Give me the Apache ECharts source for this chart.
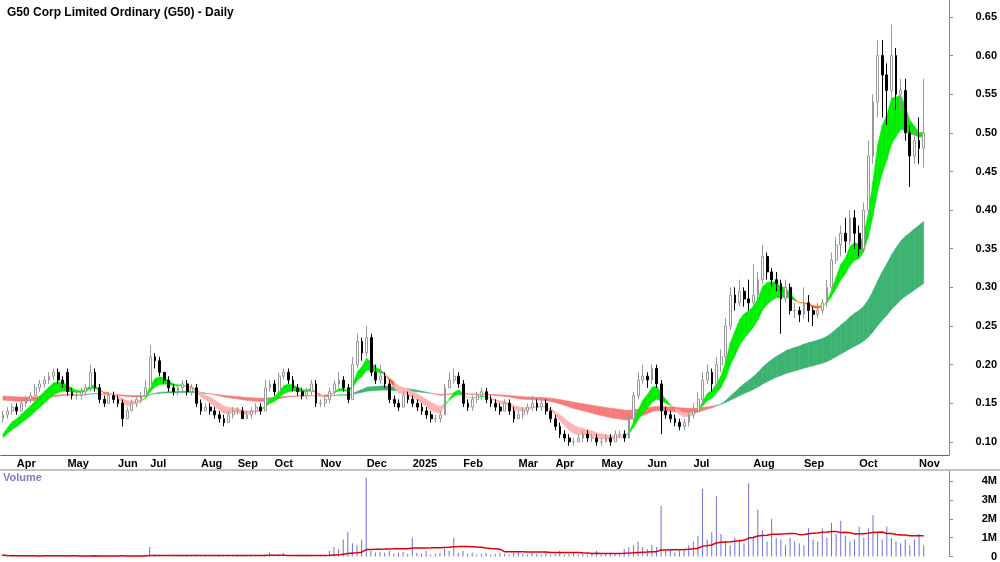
<!DOCTYPE html><html><head><meta charset="utf-8"><script src="https://cdn.jsdelivr.net/npm/echarts@6/dist/echarts.min.js"></script>
<style>body{margin:0}#c{width:1000px;height:562px}</style></head><body><div id="c"></div><script>
const title='G50 Corp Limited Ordinary (G50) - Daily';
// [open, close, low, high]
const ohlc=[[.13,.135,.125,.14],[.135,.14,.13,.145],[.14,.145,.135,.15],[.145,.14,.135,.15],[.14,.15,.14,.155],[.15,.155,.145,.16],[.155,.16,.15,.165],[.16,.17,.16,.175],[.17,.175,.165,.18],[.175,.18,.17,.185],
[.18,.185,.175,.19],[.185,.19,.18,.195],[.19,.18,.175,.195],[.18,.175,.17,.185],[.19,.165,.16,.195],[.165,.16,.155,.17],[.16,.16,.155,.165],[.16,.165,.155,.17],[.165,.17,.16,.175],[.17,.19,.165,.20],
[.19,.17,.165,.195],[.17,.155,.15,.175],[.155,.15,.145,.16],[.15,.16,.15,.165],[.16,.155,.15,.165],[.155,.15,.145,.16],[.15,.13,.12,.155],[.13,.14,.13,.145],[.14,.15,.14,.155],[.15,.155,.145,.16],
[.155,.16,.15,.165],[.16,.17,.16,.18],[.17,.21,.17,.225],[.21,.205,.195,.215],[.205,.19,.185,.21],[.19,.18,.175,.19],[.18,.17,.165,.185],[.17,.165,.16,.175],[.165,.17,.16,.175],[.17,.175,.165,.18],
[.175,.165,.16,.18],[.165,.17,.16,.175],[.17,.15,.145,.175],[.15,.14,.135,.155],[.14,.145,.14,.15],[.145,.14,.135,.15],[.14,.135,.13,.145],[.135,.13,.125,.14],[.13,.125,.12,.135],[.125,.135,.125,.14],
[.135,.14,.13,.145],[.14,.14,.135,.145],[.14,.13,.13,.145],[.13,.135,.13,.14],[.135,.14,.13,.145],[.14,.145,.135,.15],[.145,.14,.135,.15],[.14,.17,.14,.18],[.17,.175,.165,.18],[.175,.165,.16,.18],
[.165,.185,.165,.19],[.185,.19,.18,.195],[.19,.18,.175,.195],[.18,.17,.165,.185],[.17,.165,.16,.175],[.165,.16,.155,.17],[.16,.165,.155,.17],[.165,.175,.16,.18],[.175,.15,.145,.18],[.15,.15,.145,.155],
[.15,.155,.145,.16],[.155,.165,.15,.17],[.165,.175,.16,.18],[.175,.18,.17,.19],[.18,.17,.165,.185],[.17,.155,.15,.175],[.155,.2,.155,.21],[.2,.23,.195,.24],[.23,.215,.205,.235],[.215,.235,.21,.25],
[.235,.19,.185,.24],[.19,.18,.175,.2],[.18,.185,.175,.2],[.185,.175,.17,.19],[.175,.155,.15,.18],[.155,.15,.145,.16],[.15,.145,.14,.155],[.145,.16,.145,.165],[.16,.155,.15,.165],[.155,.15,.145,.16],
[.15,.145,.14,.155],[.145,.14,.135,.15],[.14,.135,.13,.145],[.135,.13,.125,.14],[.13,.13,.125,.135],[.13,.135,.125,.14],[.135,.17,.135,.175],[.17,.18,.17,.19],[.18,.185,.175,.195],[.185,.175,.17,.19],
[.175,.15,.145,.18],[.15,.145,.14,.155],[.145,.155,.14,.16],[.155,.16,.15,.165],[.16,.165,.155,.17],[.165,.155,.15,.17],[.155,.15,.145,.16],[.15,.145,.14,.155],[.145,.14,.135,.15],[.14,.15,.14,.155],
[.15,.14,.135,.155],[.14,.13,.125,.145],[.13,.135,.13,.14],[.135,.14,.13,.145],[.14,.145,.135,.15],[.145,.15,.14,.16],[.15,.145,.14,.155],[.145,.15,.14,.155],[.15,.14,.135,.155],[.14,.13,.125,.145],
[.13,.12,.115,.135],[.12,.11,.105,.125],[.11,.105,.1,.115],[.105,.1,.095,.11],[.1,.1,.095,.105],[.1,.105,.1,.11],[.105,.11,.1,.115],[.11,.105,.1,.115],[.105,.105,.1,.11],[.105,.1,.095,.11],
[.1,.1,.095,.105],[.1,.105,.1,.11],[.105,.1,.095,.11],[.1,.11,.1,.115],[.11,.11,.105,.115],[.11,.105,.1,.115],[.105,.13,.105,.135],[.13,.16,.125,.165],[.16,.18,.155,.19],[.18,.185,.175,.2],
[.185,.18,.17,.19],[.18,.195,.175,.2],[.195,.175,.17,.2],[.175,.14,.11,.18],[.14,.135,.13,.145],[.135,.13,.125,.14],[.13,.125,.12,.135],[.125,.12,.115,.13],[.12,.125,.115,.13],[.125,.135,.12,.14],
[.135,.14,.13,.15],[.14,.155,.14,.165],[.155,.18,.15,.19],[.18,.19,.175,.2],[.19,.175,.165,.195],[.175,.2,.17,.21],[.2,.21,.19,.22],[.21,.25,.205,.26],[.25,.29,.245,.3],[.29,.28,.27,.3],
[.28,.295,.275,.31],[.295,.285,.275,.3],[.285,.28,.27,.31],[.28,.29,.275,.33],[.29,.31,.285,.32],[.31,.34,.305,.355],[.34,.32,.31,.345],[.32,.31,.3,.325],[.31,.305,.295,.32],[.305,.285,.24,.31],
[.285,.3,.28,.31],[.3,.27,.265,.305],[.27,.27,.26,.28],[.27,.265,.255,.275],[.265,.28,.26,.3],[.28,.27,.255,.29],[.27,.265,.25,.275],[.265,.27,.26,.28],[.27,.28,.265,.285],[.28,.3,.275,.31],
[.3,.335,.295,.345],[.335,.355,.33,.365],[.355,.37,.34,.38],[.37,.36,.345,.39],[.36,.39,.355,.4],[.39,.37,.35,.4],[.37,.35,.34,.38],[.35,.4,.345,.41],[.4,.47,.395,.49],[.47,.54,.46,.55],
[.54,.6,.52,.62],[.6,.575,.52,.62],[.575,.555,.51,.59],[.555,.6,.54,.64],[.6,.55,.53,.61],[.55,.555,.53,.57],[.555,.5,.49,.57],[.5,.47,.43,.51],[.47,.49,.46,.505],[.49,.48,.46,.52],[.48,.5,.455,.57]];
// volume in millions
const volume=[.08,.02,.02,.03,.02,.05,.02,.03,.02,.06,.03,.04,.02,.03,.02,.05,.03,.02,.02,.04,
.06,.02,.03,.02,.05,.03,.04,.02,.03,.02,.05,.04,.5,.1,.06,.05,.03,.02,.03,.04,
.02,.03,.1,.03,.05,.02,.02,.03,.02,.02,.04,.03,.05,.03,.02,.02,.03,.12,.2,.05,
.1,.2,.06,.04,.03,.05,.03,.05,.02,.03,.04,.3,.5,.4,.9,1.3,.7,.6,.9,4.2,
.3,.2,.25,.2,.3,.15,.2,.25,.15,1.0,.2,.15,.3,.1,.15,.2,.4,.3,1.0,.2,
.3,.15,.2,.1,.15,.2,.1,.15,.2,.15,.1,.2,.3,.15,.1,.2,.15,.1,.2,.1,
.15,.3,.1,.15,.2,.1,.15,.1,.2,.3,.1,.15,.2,.15,.1,.4,.5,.6,.8,.5,
.4,.6,.5,2.7,.3,.4,.2,.3,.4,.6,.8,1.1,3.6,.9,1.3,3.2,1.2,.8,.6,1.0,
.9,.7,3.9,1.0,2.5,1.4,.8,2.0,1.0,.9,.6,1.0,.8,.7,.6,1.5,.9,.8,1.5,1.0,
1.8,1.2,1.9,1.1,.8,.9,1.6,1.0,1.5,2.2,1.3,.9,1.6,1.0,.8,.7,.9,.6,.9,1.2,.6];
const monthLabels={3:'Apr',14:'May',25:'Jun',32:'Jul',43:'Aug',51:'Sep',59:'Oct',69:'Nov',79:'Dec',89:'2025',100:'Feb',112:'Mar',120:'Apr',130:'May',140:'Jun',150:'Jul',163:'Aug',174:'Sep',186:'Oct',199:'Nov'};
const priceTicks=[0.10,0.15,0.20,0.25,0.30,0.35,0.40,0.45,0.50,0.55,0.60,0.65];
const volTicks=[0,1,2,3,4];

const N=206;
const cats=[];for(let i=0;i<N;i++)cats.push(monthLabels[i]||'');
const closes=ohlc.map(d=>d[1]);
function ema(p,seed){const k=2/(p+1);let e=seed;return closes.map(c=>e=e+(c-e)*k);}
const sF=ema(6,0.10),sS=ema(12,0.10),lF=ema(45,0.155),lS=ema(90,0.16);
function band(a,b,col){const out=[];for(let i=0;i<a.length-1;i++)out.push([i,a[i],b[i],a[i+1],b[i+1],col(i)]);return out;}
const cols=['#00ee00','#ff6a2a','#ffb3b3','#3cb371','#f77a7a'];
const sBand=band(sF,sS,i=>sF[i+1]>=sS[i+1]?0:(Math.min(sS[i+1],sF[i+1])>=Math.min(lS[i+1],lF[i+1])?1:2));
const lBand=band(lF,lS,i=>lF[i+1]>=lS[i+1]?3:4);
const volMA=volume.map((v,i)=>{const s=volume.slice(Math.max(0,i-29),i+1);return s.reduce((a,b)=>a+b,0)/s.length;});
function ri(params,api){const i=api.value(0);
 const p=[api.coord([i,api.value(1)]),api.coord([i+1,api.value(3)]),api.coord([i+1,api.value(4)]),api.coord([i,api.value(2)])];
 return {type:'polygon',shape:{points:p},style:{fill:cols[api.value(5)],stroke:cols[api.value(5)],lineWidth:0.5}};}
const font={fontFamily:'Liberation Sans, Arial',fontWeight:'bold',fontSize:11,color:'#000'};
const chart=echarts.init(document.getElementById('c'));
chart.setOption({animation:false,
 title:{text:title,left:2,top:2,textStyle:{fontFamily:'Liberation Sans, Arial',fontWeight:'bold',fontSize:12,color:'#000'}},
 graphic:[{type:'text',left:3,top:472,style:{text:'Volume',fill:'#8080c0',font:'bold 11px Liberation Sans, Arial'}},
  {type:'line',shape:{x1:0,y1:470,x2:1000,y2:470},style:{stroke:'#888',lineWidth:1}}],
 grid:[{left:0,right:50,top:0,height:455},{left:0,right:50,top:471,height:86}],
 xAxis:[{type:'category',data:cats,gridIndex:0,boundaryGap:true,
   axisLine:{lineStyle:{color:'#666'}},axisTick:{interval:i=>!!monthLabels[i],length:4,lineStyle:{color:'#666'}},
   axisLabel:{interval:0,...font,align:'left',margin:3,formatter:v=>v}},
  {type:'category',data:cats,gridIndex:1,axisLine:{show:false},axisTick:{show:false},axisLabel:{show:false}}],
 yAxis:[{type:'value',gridIndex:0,position:'right',min:0.083,max:0.672,splitLine:{show:false},
   axisLine:{show:true,lineStyle:{color:'#888'}},axisTick:{show:true,customValues:priceTicks,length:4},
   axisLabel:{customValues:priceTicks,...font,align:'right',margin:48,formatter:v=>v.toFixed(2)}},
  {type:'value',gridIndex:1,position:'right',min:0,max:4.55,splitLine:{show:false},
   axisLine:{show:true,lineStyle:{color:'#888'}},axisTick:{show:true,customValues:volTicks,length:4},
   axisLabel:{customValues:volTicks,...font,align:'right',margin:48,formatter:v=>v===0?'0':v+'M'}}],
 series:[
  {type:'custom',renderItem:ri,data:lBand,xAxisIndex:0,yAxisIndex:0,encode:{x:0,y:[1,2,3,4]},z:1,clip:true},
  {type:'custom',renderItem:ri,data:sBand,xAxisIndex:0,yAxisIndex:0,encode:{x:0,y:[1,2,3,4]},z:2,clip:true},
  {type:'candlestick',data:ohlc,barMaxWidth:3,z:3,itemStyle:{color:'#fff',color0:'#000',borderColor:'#999',borderColor0:'#000',borderWidth:1}},
  {type:'bar',data:volume,xAxisIndex:1,yAxisIndex:1,barWidth:1,itemStyle:{color:'#7070d8'}},
  {type:'line',data:volMA,xAxisIndex:1,yAxisIndex:1,showSymbol:false,lineStyle:{color:'#e00000',width:1.5}}
 ]});
</script></body></html>
